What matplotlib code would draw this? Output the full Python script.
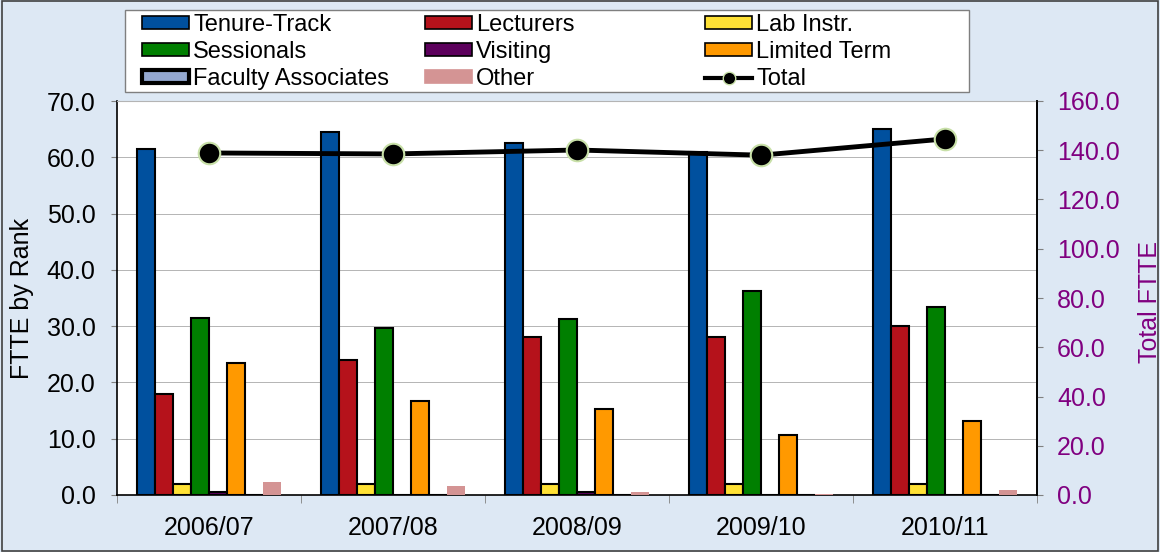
import numpy as np
import matplotlib
matplotlib.use("Agg")
import matplotlib.pyplot as plt
from matplotlib.patches import Patch, Rectangle
from matplotlib.lines import Line2D

plt.rcParams['font.family'] = ['Liberation Sans', 'DejaVu Sans']

years = ["2006/07", "2007/08", "2008/09", "2009/10", "2010/11"]
series = ["Tenure-Track", "Lecturers", "Lab Instr.", "Sessionals",
          "Visiting", "Limited Term", "Faculty Associates", "Other"]
tenure = [61.5, 64.5, 62.5, 60.9, 65.0]
lecturers = [18.0, 24.0, 28.0, 28.0, 30.0]
lab_instr = [2.0, 2.0, 2.0, 2.0, 2.0]
sessionals = [31.4, 29.7, 31.3, 36.3, 33.4]
visiting = [0.6, 0.0, 0.6, 0.0, 0.0]
limited = [23.4, 16.7, 15.3, 10.7, 13.1]
fac_assoc = [0.0, 0.0, 0.0, 0.0, 0.0]
other = [2.3, 1.6, 0.5, 0.1, 0.9]
total = [138.9, 138.5, 140.1, 138.0, 144.6]

values = [tenure, lecturers, lab_instr, sessionals, visiting, limited, fac_assoc, other]
colors = ["#00509E", "#B5121B", "#FFE135", "#007F00", "#5C005C", "#FF9900", "#94A8D0", "#D49494"]
edges = ["black"] * 7 + ["none"]

FS = 18
fig = plt.figure(figsize=(11.6, 5.52), dpi=100, facecolor="#DDE8F4")
ax = fig.add_axes([117 / 1160, 1 - 495 / 552, 920 / 1160, 394 / 552])
ax.set_facecolor("white")

x = np.arange(len(years))
w = 0.098
for k, (vals, c, ec) in enumerate(zip(values, colors, edges)):
    ax.bar(x + (k - 3.5) * w, vals, width=w, color=c, edgecolor=ec,
           linewidth=1.5, zorder=3)

ax.set_xlim(-0.5, len(years) - 0.5)
ax.set_ylim(0, 70)
ax.set_yticks(np.arange(0, 71, 10))
ax.set_yticklabels([f"{v:.1f}" for v in np.arange(0, 71, 10)])
ax.yaxis.grid(True, color="#B4B4B4", linewidth=0.7, zorder=0)
ax.set_xticks(x)
ax.set_xticklabels(years)
ax.set_xticks(np.arange(-0.5, len(years)), minor=True)
ax.tick_params(axis="x", which="major", length=0, labelsize=FS, pad=15)
ax.tick_params(axis="x", which="minor", length=6, color="#808080", direction="out")
ax.tick_params(axis="y", labelsize=FS, length=4.5, color="#808080", pad=11)
ax.set_ylabel("FTTE by Rank", fontsize=FS)
ax.yaxis.set_label_coords(-0.090, 0.5)
for s in ["left", "bottom", "right"]:
    ax.spines[s].set_color("black")
    ax.spines[s].set_linewidth(1.2)
ax.spines["top"].set_color("#B4B4B4")

ax2 = ax.twinx()
ax2.plot(x, total, color="black", linewidth=3.5, marker="o", markersize=15.5,
         markerfacecolor="black", markeredgecolor="#C8E0A8", markeredgewidth=1.5, zorder=5)
ax2.set_ylim(0, 160)
ax2.set_yticks(np.arange(0, 161, 20))
ax2.set_yticklabels([f"{v:.1f}" for v in np.arange(0, 161, 20)])
ax2.tick_params(axis="y", labelsize=FS, labelcolor="#800080", length=4.5,
                color="#808080", pad=10)
ax2.set_ylabel("Total FTTE", fontsize=FS, color="#800080")
ax2.yaxis.set_label_coords(1.1098, 0.49)
for s in ["top", "left", "bottom"]:
    ax2.spines[s].set_visible(False)
ax2.spines["right"].set_color("black")
ax2.spines["right"].set_linewidth(1.2)

# legend box and three columns
fig.patches.append(Rectangle((125 / 1160, 1 - 92 / 552), 844 / 1160, 82 / 552,
                             transform=fig.transFigure, facecolor="white",
                             edgecolor="#7F7F7F", linewidth=1, zorder=0))
handles = [Patch(facecolor=c, edgecolor=("black" if e != "none" else c),
                 linewidth=(3 if s == "Faculty Associates" else 1.2))
           for c, e, s in zip(colors, edges, series)]
handles.append(Line2D([], [], color="black", linewidth=3, marker="o", markersize=9,
                      markerfacecolor="black", markeredgecolor="#C8E0A8"))
labels = series + ["Total"]
cols = [[0, 3, 6], [1, 4, 7], [2, 5, 8]]
col_x = [142, 425, 705]
for cx, idx in zip(col_x, cols):
    fig.legend([handles[i] for i in idx], [labels[i] for i in idx],
               loc="upper left", bbox_to_anchor=(cx / 1160, 1 - 14 / 552),
               frameon=False, fontsize=17, handlelength=2.0, handleheight=0.47,
               handletextpad=0.17, labelspacing=0.22, borderpad=0.0, borderaxespad=0.0)

fig.patches.append(Rectangle((0.002, 0.002), 0.996, 0.996, transform=fig.transFigure,
                             facecolor="none", edgecolor="#404040", linewidth=1.2))

fig.savefig("out.png", dpi=100, facecolor=fig.get_facecolor())
